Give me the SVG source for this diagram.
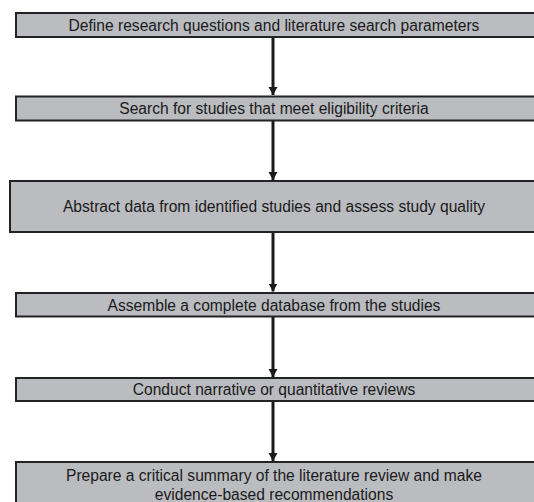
<svg xmlns="http://www.w3.org/2000/svg" width="534" height="502" viewBox="0 0 534 502">
<style>
.box{fill:#bbbcc0;stroke:#232323;stroke-width:2}
.t{font-family:"Liberation Sans",Arial,sans-serif;font-size:15.6px;fill:#1a1a1a;text-anchor:middle}
.c{stroke:#1a1a1a;stroke-width:3;fill:none}
</style>
<defs>
<marker id="ah" markerUnits="userSpaceOnUse" markerWidth="10" markerHeight="10" refX="8" refY="5" orient="auto">
<path d="M0,0.5 L8,5 L0,9.5 Z" fill="#1a1a1a"/>
</marker>
</defs>
<g id="connectors">
<line class="c" x1="273" y1="37" x2="273" y2="95" marker-end="url(#ah)"/>
<line class="c" x1="273" y1="121" x2="273" y2="180" marker-end="url(#ah)"/>
<line class="c" x1="273" y1="232" x2="273" y2="291.5" marker-end="url(#ah)"/>
<line class="c" x1="273" y1="316.5" x2="273" y2="377" marker-end="url(#ah)"/>
<line class="c" x1="273" y1="401" x2="273" y2="461" marker-end="url(#ah)"/>
</g>
<g id="n1"><rect class="box" x="16" y="13" width="530" height="24"/><text class="t" x="274" y="30.5">Define research questions and literature search parameters</text></g>
<g id="n2"><rect class="box" x="16" y="96.5" width="530" height="24"/><text class="t" x="274" y="114">Search for studies that meet eligibility criteria</text></g>
<g id="n3"><rect class="box" x="10" y="181" width="540" height="51"/><text class="t" x="274" y="212">Abstract data from identified studies and assess study quality</text></g>
<g id="n4"><rect class="box" x="16" y="293" width="530" height="23.5"/><text class="t" x="274" y="310.5">Assemble a complete database from the studies</text></g>
<g id="n5"><rect class="box" x="16" y="378" width="530" height="23"/><text class="t" x="274" y="395">Conduct narrative or quantitative reviews</text></g>
<g id="n6"><rect class="box" x="16" y="462" width="530" height="50"/><text class="t" x="274" y="481">Prepare a critical summary of the literature review and make</text><text class="t" x="274" y="500">evidence-based recommendations</text></g>
</svg>
